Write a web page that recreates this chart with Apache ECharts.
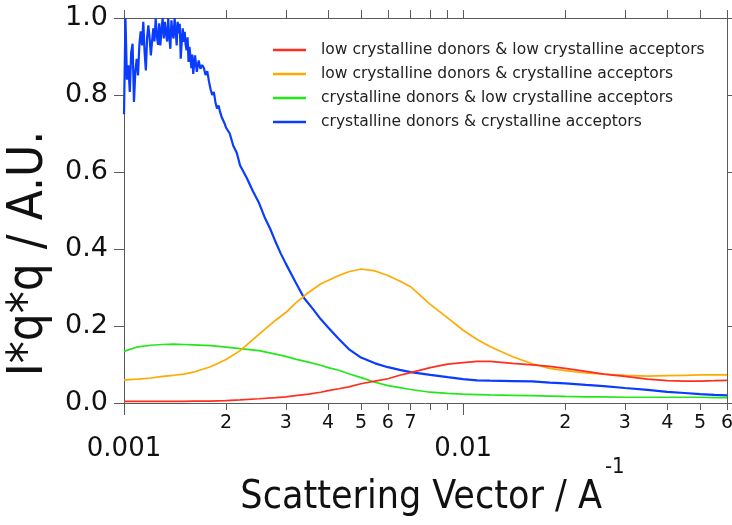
<!DOCTYPE html>
<html>
<head>
<meta charset="utf-8">
<script src="https://cdn.jsdelivr.net/npm/echarts@6/dist/echarts.min.js"></script>
<style>
  html, body { margin: 0; padding: 0; background: #ffffff; }
  #chart { width: 732px; height: 525px; }
</style>
</head>
<body>
<div id="chart"></div>
<script>
// Scattering vector q (1/A) shared by the three smooth traces
const qGrid = [0.00100, 0.00110, 0.00120, 0.00130, 0.00140, 0.00150, 0.00160, 0.00180, 0.00200, 0.00220,
  0.00250, 0.00280, 0.00300, 0.00320, 0.00350, 0.00380, 0.00400, 0.00430, 0.00460, 0.00500,
  0.00550, 0.00600, 0.00650, 0.00700, 0.00800, 0.00900, 0.0100, 0.0110, 0.0120, 0.0140,
  0.0160, 0.0180, 0.0200, 0.0230, 0.0260, 0.0300, 0.0350, 0.0400, 0.0450, 0.0500, 0.0550, 0.0600];

// I*q*q for the low crystalline donors & low crystalline acceptors blend
const lowLow = [0.004, 0.004, 0.004, 0.004, 0.004, 0.004, 0.005, 0.005, 0.006, 0.008,
  0.011, 0.014, 0.016, 0.019, 0.023, 0.028, 0.032, 0.037, 0.042, 0.050,
  0.057, 0.063, 0.072, 0.079, 0.092, 0.101, 0.105, 0.108, 0.108, 0.103,
  0.099, 0.095, 0.090, 0.082, 0.075, 0.069, 0.062, 0.058, 0.057, 0.057, 0.058, 0.059];

// low crystalline donors & crystalline acceptors
const lowCryst = [0.060, 0.062, 0.065, 0.069, 0.072, 0.075, 0.080, 0.094, 0.113, 0.136,
  0.178, 0.215, 0.235, 0.259, 0.287, 0.309, 0.318, 0.331, 0.341, 0.348,
  0.343, 0.331, 0.317, 0.302, 0.256, 0.221, 0.189, 0.165, 0.147, 0.120,
  0.102, 0.090, 0.084, 0.078, 0.075, 0.072, 0.070, 0.071, 0.072, 0.073, 0.073, 0.073];

// crystalline donors & low crystalline acceptors
const crystLow = [0.134, 0.146, 0.150, 0.152, 0.153, 0.152, 0.151, 0.149, 0.145, 0.141,
  0.136, 0.127, 0.121, 0.114, 0.106, 0.098, 0.092, 0.085, 0.076, 0.066,
  0.054, 0.045, 0.040, 0.035, 0.028, 0.025, 0.023, 0.022, 0.021, 0.020,
  0.019, 0.018, 0.017, 0.016, 0.016, 0.015, 0.015, 0.015, 0.015, 0.015, 0.014, 0.014];

// crystalline donors & crystalline acceptors: finer q steps where the signal is noisy
const crystCrystQ = [
  0.00100, 0.00101, 0.00102, 0.00103, 0.00104, 0.00105, 0.00106, 0.00107, 0.00108, 0.00109,
  0.00110, 0.00111, 0.00112, 0.00113, 0.00114, 0.00115, 0.00116, 0.00117, 0.00118, 0.00119,
  0.00120, 0.00121, 0.00122, 0.00123, 0.00124, 0.00125, 0.00126, 0.00127, 0.00128, 0.00129,
  0.00130, 0.00131, 0.00132, 0.00133, 0.00134, 0.00135, 0.00136, 0.00137, 0.00138, 0.00139,
  0.00140, 0.00141, 0.00142, 0.00143, 0.00144, 0.00145, 0.00146, 0.00147, 0.00148, 0.00149,
  0.00150, 0.00151, 0.00152, 0.00153, 0.00154, 0.00155, 0.00156, 0.00157, 0.00158, 0.00159,
  0.00160, 0.00162, 0.00164, 0.00166, 0.00168, 0.00170, 0.00172, 0.00174, 0.00176, 0.00178,
  0.00180, 0.00182, 0.00184, 0.00186, 0.00188, 0.00190, 0.00192, 0.00194, 0.00196, 0.00198,
  0.00200, 0.00205, 0.00210, 0.00215, 0.00220, 0.00230, 0.00240, 0.00250, 0.00260, 0.00270,
  0.00280, 0.00290, 0.00300, 0.00320, 0.00340, 0.00360, 0.00380, 0.00400, 0.00430, 0.00460,
  0.00500, 0.00550, 0.00600, 0.00650, 0.00700, 0.00800, 0.00900, 0.0100, 0.0110, 0.0120,
  0.0140, 0.0160, 0.0180, 0.0200, 0.0230, 0.0260, 0.0300, 0.0350, 0.0400, 0.0450,
  0.0500, 0.0550, 0.0600];
const crystCryst = [
  0.750, 1.000, 0.840, 0.877, 0.808, 0.910, 0.933, 0.782, 0.860, 0.894,
  0.851, 0.930, 0.965, 0.929, 0.990, 0.912, 0.864, 0.950, 0.981, 0.947,
  0.903, 0.940, 0.973, 0.939, 0.999, 0.955, 0.930, 0.986, 0.929, 0.970,
  1.000, 0.947, 0.990, 0.960, 0.939, 0.999, 0.950, 0.920, 0.994, 0.960,
  0.947, 1.000, 0.970, 0.929, 0.990, 0.960, 0.985, 0.894, 0.940, 0.973,
  0.938, 0.964, 0.930, 0.916, 0.950, 0.886, 0.925, 0.900, 0.870, 0.905,
  0.855, 0.903, 0.860, 0.890, 0.868, 0.878, 0.870, 0.852, 0.862, 0.836,
  0.815, 0.800, 0.808, 0.782, 0.765, 0.773, 0.756, 0.743, 0.747, 0.726,
  0.715, 0.700, 0.668, 0.650, 0.617, 0.585, 0.550, 0.520, 0.482, 0.452,
  0.418, 0.388, 0.362, 0.315, 0.272, 0.245, 0.218, 0.196, 0.166, 0.140,
  0.118, 0.103, 0.093, 0.086, 0.080, 0.073, 0.067, 0.062, 0.059, 0.058,
  0.057, 0.056, 0.053, 0.051, 0.047, 0.044, 0.039, 0.034, 0.029, 0.026,
  0.023, 0.021, 0.020];

const seriesNames = [
  'low crystalline donors & low crystalline acceptors',
  'low crystalline donors & crystalline acceptors',
  'crystalline donors & low crystalline acceptors',
  'crystalline donors & crystalline acceptors'
];
const seriesColors = ['#ff2e1f', '#ffaa00', '#22e81a', '#0a3cff'];

// Axis ranges and tick values
const qMin = 0.001, qMax = 0.06;
const minorTicks = [0.002, 0.003, 0.004, 0.005, 0.006, 0.007, 0.008, 0.009, 0.02, 0.03, 0.04, 0.05, 0.06];
const minorLabels = [0.002, 0.003, 0.004, 0.005, 0.006, 0.007, 0.02, 0.03, 0.04, 0.05, 0.06];
const allTicks = [0.001, 0.002, 0.003, 0.004, 0.005, 0.006, 0.007, 0.008, 0.009, 0.01, 0.02, 0.03, 0.04, 0.05, 0.06];

const FONT = "'DejaVu Sans', sans-serif";
const TITLE_FONT = "'DejaVu Sans Condensed', 'Liberation Sans Narrow', 'DejaVu Sans', sans-serif";
const AXIS_COLOR = '#5a5a5a';

// Companion decade axes live in log10(q) space, aligned with the log axis
const lg = v => Math.log10(v);
const mantissa = v => Math.round(Math.pow(10, v - Math.floor(v + 1e-9)));

const pairs = (xs, ys) => xs.map((x, i) => [x, ys[i]]);
const dataSets = [pairs(qGrid, lowLow), pairs(qGrid, lowCryst), pairs(qGrid, crystLow), pairs(crystCrystQ, crystCryst)];

const chart = echarts.init(document.getElementById('chart'), null, { renderer: 'canvas' });

chart.setOption({
  animation: false,
  backgroundColor: '#ffffff',
  grid: { left: 124, right: 5, top: 18, bottom: 122, outerBoundsMode: 'none', containLabel: false },
  legend: {
    orient: 'vertical',
    left: 273,
    top: 42,
    padding: 0,
    icon: 'rect',
    itemWidth: 33,
    itemHeight: 2.5,
    itemGap: 8,
    data: seriesNames,
    textStyle: { fontFamily: FONT, fontSize: 15.5, lineHeight: 15, color: '#222222', padding: [0, 0, 0, 10] }
  },
  xAxis: [
    {
      type: 'log',
      logBase: 10,
      min: qMin,
      max: qMax,
      position: 'bottom',
      axisLine: { show: true, lineStyle: { color: AXIS_COLOR, width: 1 } },
      axisTick: { show: true, length: 12, lineStyle: { color: AXIS_COLOR } },
      axisLabel: {
        fontFamily: FONT, fontSize: 26, color: '#111111', margin: 33,
        showMaxLabel: false,
        formatter: v => String(+Number(v).toPrecision(3))
      },
      splitLine: { show: false },
      name: '{t|Scattering Vector / A}{s|-1}',
      nameLocation: 'middle',
      nameMoveOverlap: false,
      nameGap: 53,
      nameTextStyle: {
        rich: {
          t: { fontFamily: TITLE_FONT, fontSize: 39, color: '#111111', lineHeight: 84, padding: [0, 0, 0, 14] },
          s: { fontFamily: TITLE_FONT, fontSize: 22, color: '#111111', lineHeight: 24, verticalAlign: 'top', padding: [0, 0, 0, 3] }
        }
      }
    },
    {
      type: 'value',
      min: lg(qMin),
      max: lg(qMax),
      position: 'bottom',
      axisLine: { show: false },
      axisTick: { show: true, length: 7, customValues: minorTicks.map(lg), lineStyle: { color: AXIS_COLOR } },
      axisLabel: {
        customValues: minorLabels.map(lg),
        fontFamily: FONT, fontSize: 19, color: '#111111', margin: 11,
        formatter: v => String(mantissa(v))
      },
      splitLine: { show: false }
    },
    {
      type: 'value',
      min: lg(qMin),
      max: lg(qMax),
      position: 'top',
      axisLine: { show: true, lineStyle: { color: AXIS_COLOR, width: 1 } },
      axisTick: { show: true, length: 8, customValues: allTicks.map(lg), lineStyle: { color: AXIS_COLOR } },
      axisLabel: { show: false },
      splitLine: { show: false }
    }
  ],
  yAxis: [
    {
      type: 'value',
      min: 0,
      max: 1,
      interval: 0.2,
      position: 'left',
      axisLine: { show: true, lineStyle: { color: AXIS_COLOR, width: 1 } },
      axisTick: { show: true, length: 10, lineStyle: { color: AXIS_COLOR } },
      axisLabel: { fontFamily: FONT, fontSize: 27, color: '#111111', margin: 16, formatter: v => v.toFixed(1) },
      splitLine: { show: false },
      name: 'I*q*q / A.U.',
      nameLocation: 'middle',
      nameMoveOverlap: false,
      nameRotate: 90,
      nameGap: 70,
      nameTextStyle: { fontFamily: TITLE_FONT, fontSize: 49, color: '#111111', padding: [0, 86, 0, 0] }
    },
    {
      type: 'value',
      min: 0,
      max: 1,
      interval: 0.2,
      position: 'right',
      axisLine: { show: true, lineStyle: { color: AXIS_COLOR, width: 1 } },
      axisTick: { show: true, length: 5, lineStyle: { color: AXIS_COLOR } },
      axisLabel: { show: false },
      splitLine: { show: false }
    }
  ],
  series: dataSets.map((d, i) => ({
    name: seriesNames[i],
    type: 'line',
    xAxisIndex: 0,
    yAxisIndex: 0,
    data: d,
    symbol: 'none',
    smooth: false,
    color: seriesColors[i],
    lineStyle: { color: seriesColors[i], width: i === 3 ? 2.2 : 1.7 },
    z: 2 + (3 - i)
  }))
});
</script>
</body>
</html>
